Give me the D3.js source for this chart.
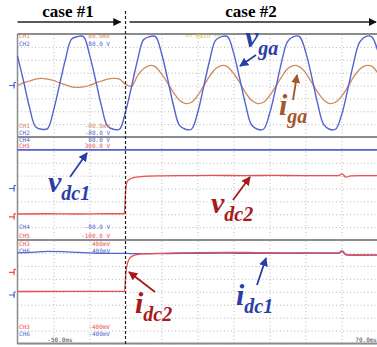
<!DOCTYPE html>
<html>
<head>
<script src="https://d3js.org/d3.v7.min.js"></script>
<style>
  body { margin: 0; background: #fff; }
  svg { display: block; }
  .lbl { font-family: "DejaVu Sans Mono", monospace; font-size: 6px; }
  .anno { font-family: "Liberation Serif", serif; font-style: italic; font-weight: bold; }
  .case { font-family: "Liberation Serif", serif; font-weight: bold; font-size: 17px; }
</style>
</head>
<body>
<svg id="scope" width="377" height="347"></svg>
<script>
// time base (ms) and screen labels
const timeLabels = ["-50.0ms", "70.0ms"];
const tStart = -50, tEnd = 70;
const caseSwitch = -14;

// AC samples every 2 ms
const acTimes = d3.range(-50, 71, 2);
const vgaValues = [46,7,-34,-64,-68,-67,-39,1,41,72,76,76,48,9,-32,-63,-68,-68,-41,-2,
  39,71,76,76,50,11,-31,-62,-68,-68,-43,-3,38,70,76,76,51,12,-29,-61,-68,-68,-44,-6,
  36,68,76,76,53,15,-27,-60,-68,-68,-46,-8,34,67,76,76,55];
const igaValues = [0,4,7,10,11,10,8,4,1,-2,-3,-2,0,4,7,10,11,10,2,
  -1,15,26,31,29,18,4,-11,-23,-28,-26,-16,-1,14,26,31,29,19,5,-11,-23,-28,-26,-16,-2,
  13,26,31,29,20,5,-10,-22,-28,-26,-17,-3,13,25,31,30,20];

// DC traces
const vdc1Times = [-50,-30,-14,0,20,40,60,70];
const vdc1Values = [60,60,60,60,60,60,60,60];
const vdc2Times = [-50,-40,-30,-20,-14.4,-13.9,-13.4,-12.5,-11,-9,-6,-2,5,15,25,35,45,52,57,58.2,59.5,61,65,70];
const vdc2Values = [1,2,1,2,2,100,128,137,143,146,148,149,150,151,150,151,150,150,150,157,144,149,150,150];
const idc1Times = [-50,-45,-40,-35,-30,-25,-20,-14,-10,0,10,20,30,40,50,57,58.2,59.5,62,70];
const idc1Values = [300,305,312,310,304,298,296,296,294,295,297,298,296,297,298,296,310,285,282,283];
const idc2Times = [-50,-30,-14.3,-13.9,-13.4,-12.7,-11.5,-10,-8,-4,0,10,20,30,40,50,57,58.2,59.5,62,70];
const idc2Values = [2,3,3,140,215,255,278,288,293,296,298,303,305,302,300,301,300,318,288,284,285];

// channel readouts
const chNames = [["CH1","CH2"],["CH4","CH5"],["CH3","CH6"]];
const chTop = [["80.0mV","80.0 V"],["80.0 V","300.0 V"],["400mV","400mV"]];
const chBottom = [["-80.0mV","-80.0 V"],["-80.0 V","-100.0 V"],["-400mV","-400mV"]];

const C = { orange: "#cf8a5e", blue: "#5264cf", red: "#ee4e4e", grid: "#b8b8b8",
  frame: "#8c8c8c", aBlue: "#2a3ea6", aRed: "#a81a1a", aBrown: "#a4562c" };
const chColors = [[C.orange, C.blue],[C.blue, C.red],[C.red, C.blue]];

const svg = d3.select("#scope");
const left = 17.5, right = 377.5;
const panels = [[34, 137], [137, 240], [240, 343.5]];

const x = d3.scaleLinear().domain([tStart, tEnd]).range([left, right]);
const div = d3.scaleLinear().domain([0, 10]).range([left, right]);

const yVga = d3.scaleLinear().domain([-80, 80]).range([panels[0][1], panels[0][0]]);
const yIga = d3.scaleLinear().domain([-80, 80]).range([panels[0][1], panels[0][0]]);
const yVdc1 = d3.scaleLinear().domain([-80, 80]).range([panels[1][1], panels[1][0]]);
const yVdc2 = d3.scaleLinear().domain([-100, 300]).range([panels[1][1], panels[1][0]]);
const yIdc1 = d3.scaleLinear().domain([-400, 400]).range([panels[2][1], panels[2][0]]);
const yIdc2 = d3.scaleLinear().domain([-400, 400]).range([panels[2][1], panels[2][0]]);

// grid
panels.forEach(function(p) {
  const yd = d3.scaleLinear().domain([0, 8]).range([p[1], p[0]]);
  svg.append("g")
    .attr("transform", "translate(" + left + ",0)")
    .call(d3.axisLeft(yd).ticks(8).tickSize(-(right - left)).tickFormat(""))
    .call(g => g.select(".domain").remove())
    .selectAll("line").attr("stroke", C.grid).attr("stroke-dasharray", "1,2.5");
  svg.append("g")
    .attr("transform", "translate(0," + p[1] + ")")
    .call(d3.axisTop(div).tickValues([1,2,4,5,6,7,8,9]).tickSize(p[1] - p[0]).tickFormat(""))
    .call(g => g.select(".domain").remove())
    .selectAll("line").attr("stroke", C.grid).attr("stroke-dasharray", "1,2.5");
});

// frame and dividers
svg.append("g").selectAll("line").data([34, 137, 240, 343.5]).enter().append("line")
  .attr("x1", left).attr("x2", right).attr("y1", d => d).attr("y2", d => d)
  .attr("stroke", C.frame).attr("stroke-width", 1.8);
svg.append("line").attr("x1", left).attr("x2", left).attr("y1", 34).attr("y2", 344)
  .attr("stroke", C.frame).attr("stroke-width", 1.5);

// traces
function trace(times, values, ys, color, w, curve) {
  const line = d3.line().x((d, i) => x(times[i])).y(d => ys(d)).curve(curve || d3.curveMonotoneX);
  svg.append("path").attr("d", line(values)).attr("fill", "none")
    .attr("stroke", color).attr("stroke-width", w);
}
trace(acTimes, igaValues, yIga, C.orange, 1.3, d3.curveCatmullRom);
trace(acTimes, vgaValues, yVga, C.blue, 1.4, d3.curveCatmullRom);
trace(vdc1Times, vdc1Values, yVdc1, C.blue, 1.6);
trace(vdc2Times, vdc2Values, yVdc2, C.red, 1.3);
trace(idc1Times, idc1Values, yIdc1, C.blue, 1.3);
trace(idc2Times, idc2Values, yIdc2, C.red, 1.3);

// ground / trigger markers
const markers = [[yVga(0), C.blue], [yVdc1(0), C.blue], [yVdc2(-10), C.red],
  [yIdc2(150), C.red], [yIdc1(-25), C.blue]];
markers.forEach(function(m) {
  svg.append("path")
    .attr("d", "M9," + m[0] + "H15M14," + (m[0] - 3) + "V" + (m[0] + 3) + "M14," + (m[0] - 3) + "h2")
    .attr("stroke", m[1]).attr("stroke-width", 1.2).attr("fill", "none");
});

// readouts
const topBase = [[38, 45.5], [141.8, 148.2], [246, 253]];
const botBase = [[128, 135], [229, 237.5], [329, 336]];
chNames.forEach(function(pair, p) {
  pair.forEach(function(name, j) {
    const col = chColors[p][j];
    svg.append("text").attr("class", "lbl").attr("x", 19).attr("y", topBase[p][j]).attr("fill", col).text(name);
    svg.append("text").attr("class", "lbl").attr("x", 110).attr("y", topBase[p][j]).attr("text-anchor", "end").attr("fill", col).text(chTop[p][j]);
    svg.append("text").attr("class", "lbl").attr("x", 19).attr("y", botBase[p][j]).attr("fill", col).text(name);
    svg.append("text").attr("class", "lbl").attr("x", 110).attr("y", botBase[p][j]).attr("text-anchor", "end").attr("fill", col).text(chBottom[p][j]);
  });
});
svg.append("text").attr("class", "lbl").attr("x", 185).attr("y", 38).attr("fill", "#d6c63a").text("<< Main >>");
svg.append("text").attr("class", "lbl").attr("x", 60).attr("y", 342).attr("text-anchor", "middle").attr("fill", "#444").text(timeLabels[0]);
svg.append("text").attr("class", "lbl").attr("x", 377).attr("y", 342).attr("text-anchor", "end").attr("fill", "#444").text(timeLabels[1]);

// case boundary and arrows
const defs = svg.append("defs");
function arrowHead(id, color, size) {
  defs.append("marker").attr("id", id).attr("viewBox", "0 0 10 10").attr("refX", 9).attr("refY", 5)
    .attr("markerWidth", size).attr("markerHeight", size).attr("markerUnits", "userSpaceOnUse")
    .attr("orient", "auto").append("path").attr("d", "M0,0L10,5L0,10z").attr("fill", color);
}
arrowHead("hBlack", "#111", 8);
arrowHead("hBlue", C.aBlue, 9);
arrowHead("hRed", C.aRed, 9);
arrowHead("hBrown", C.aBrown, 9);

svg.append("line").attr("x1", x(caseSwitch)).attr("x2", x(caseSwitch)).attr("y1", 11).attr("y2", 346)
  .attr("stroke", "#222").attr("stroke-width", 1.2).attr("stroke-dasharray", "3,2");
svg.append("line").attr("x1", left).attr("x2", x(caseSwitch) - 5).attr("y1", 22).attr("y2", 22)
  .attr("stroke", "#222").attr("stroke-width", 1.3).attr("marker-end", "url(#hBlack)");
svg.append("line").attr("x1", x(caseSwitch) + 4).attr("x2", 376).attr("y1", 22).attr("y2", 22)
  .attr("stroke", "#222").attr("stroke-width", 1.3).attr("marker-end", "url(#hBlack)");
svg.append("text").attr("class", "case").attr("x", 68).attr("y", 17).attr("text-anchor", "middle").text("case #1");
svg.append("text").attr("class", "case").attr("x", 251).attr("y", 17).attr("text-anchor", "middle").text("case #2");

// signal names
const annos = [
  { main: "v", sub: "ga", x: 245, y: 47, color: C.aBlue, head: "hBlue", a: [256, 55, 240, 66] },
  { main: "i", sub: "ga", x: 279, y: 115, color: C.aBrown, head: "hBrown", a: [293, 100, 297, 75] },
  { main: "v", sub: "dc1", x: 48, y: 192, color: C.aBlue, head: "hBlue", a: [70, 177, 87, 153] },
  { main: "v", sub: "dc2", x: 211, y: 213, color: C.aRed, head: "hRed", a: [233, 200, 250, 177] },
  { main: "i", sub: "dc2", x: 135, y: 313, color: C.aRed, head: "hRed", a: [155, 292, 129, 272] },
  { main: "i", sub: "dc1", x: 236, y: 305, color: C.aBlue, head: "hBlue", a: [257, 285, 266, 258] }
];
annos.forEach(function(d) {
  const t = svg.append("text").attr("class", "anno").attr("x", d.x).attr("y", d.y).attr("fill", d.color);
  t.append("tspan").attr("font-size", 30).text(d.main);
  t.append("tspan").attr("font-size", 20).attr("dy", 8).text(d.sub);
  svg.append("line").attr("x1", d.a[0]).attr("y1", d.a[1]).attr("x2", d.a[2]).attr("y2", d.a[3])
    .attr("stroke", d.color).attr("stroke-width", 1.8).attr("marker-end", "url(#" + d.head + ")");
});
</script>
</body>
</html>
